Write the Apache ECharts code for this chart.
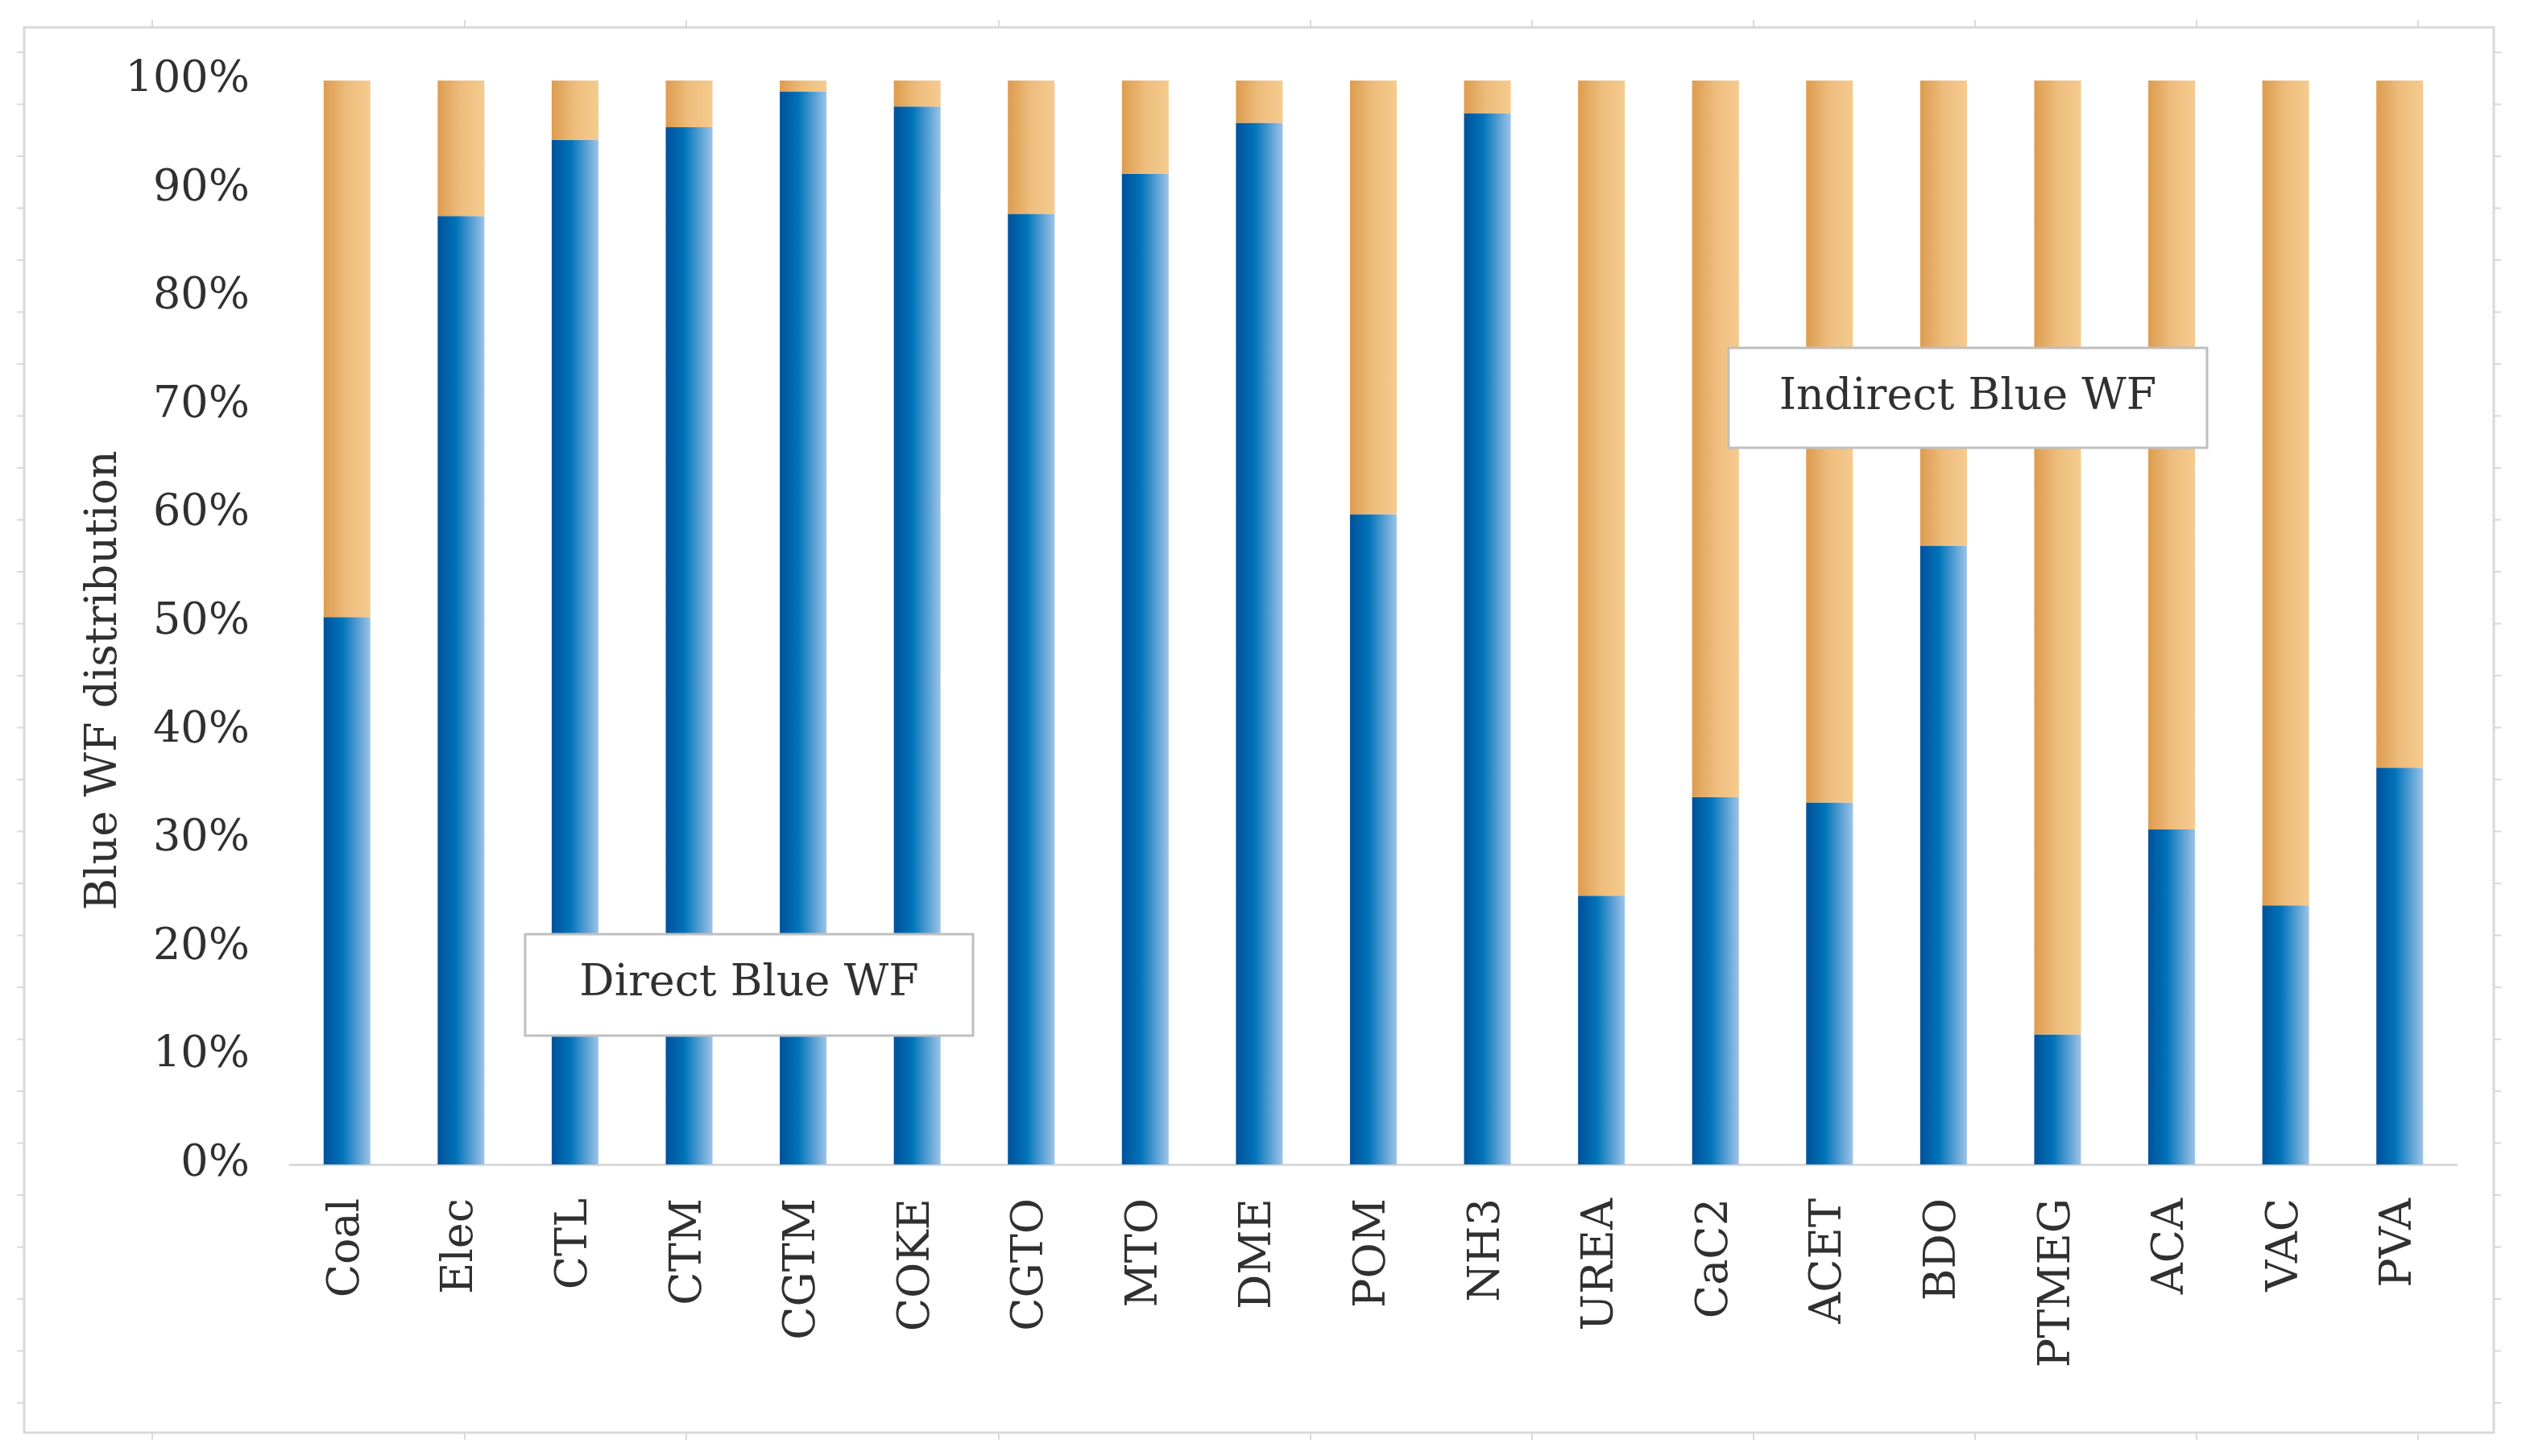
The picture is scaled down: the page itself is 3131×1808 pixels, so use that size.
<!DOCTYPE html>
<html>
<head>
<meta charset="utf-8">
<script src="https://cdn.jsdelivr.net/npm/echarts@6/dist/echarts.min.js"></script>
<style>
html,body{margin:0;padding:0;background:#fff;}
#chart{width:3131px;height:1808px;}
</style>
</head>
<body>
<div id="chart"></div>
<script>
const categories = ['Coal','Elec','CTL','CTM','CGTM','COKE','CGTO','MTO','DME','POM','NH3','UREA','CaC2','ACET','BDO','PTMEG','ACA','VAC','PVA'];
const directBlueWF = [50.5, 87.5, 94.5, 95.7, 99.0, 97.6, 87.7, 91.4, 96.1, 60.0, 97.0, 24.8, 33.9, 33.4, 57.1, 12.0, 30.9, 23.9, 36.6];
const indirectBlueWF = [49.5, 12.5, 5.5, 4.3, 1.0, 2.4, 12.3, 8.6, 3.9, 40.0, 3.0, 75.2, 66.1, 66.6, 42.9, 88.0, 69.1, 76.1, 63.4];
const yTicks = [0, 10, 20, 30, 40, 50, 60, 70, 80, 90, 100];

const FONT = 'DejaVu Serif';
const TXT = '#303030';
const FRAME = '#d9d9d9';

// decorative frame (outer border with small ruler ticks)
const frame = {left: 30, top: 34, right: 3096, bottom: 1779};
const frameTicksX = [189, 577, 852, 1240, 1627, 1902, 2177, 2452, 2727, 3002];
const frameGraphics = [
  {type: 'rect', shape: {x: frame.left, y: frame.top, width: frame.right - frame.left, height: frame.bottom - frame.top},
    style: {fill: 'none', stroke: FRAME, lineWidth: 3}, z: 0}
];
frameTicksX.forEach(x => {
  frameGraphics.push({type: 'line', shape: {x1: x, y1: frame.top - 9, x2: x, y2: frame.top}, style: {stroke: FRAME, lineWidth: 2}});
  frameGraphics.push({type: 'line', shape: {x1: x, y1: frame.bottom, x2: x, y2: frame.bottom + 9}, style: {stroke: FRAME, lineWidth: 2}});
});
for (let y = frame.top + 31; y < frame.bottom - 10; y += 64.5) {
  frameGraphics.push({type: 'line', shape: {x1: frame.left - 9, y1: y, x2: frame.left, y2: y}, style: {stroke: FRAME, lineWidth: 2}});
  frameGraphics.push({type: 'line', shape: {x1: frame.right, y1: y, x2: frame.right + 9, y2: y}, style: {stroke: FRAME, lineWidth: 2}});
}

const chart = echarts.init(document.getElementById('chart'));
chart.setOption({
  backgroundColor: '#ffffff',
  animation: false,
  grid: {left: 360, right: 81, top: 100, bottom: 362},
  xAxis: {
    type: 'category',
    data: categories,
    axisLine: {lineStyle: {color: FRAME, width: 3}},
    axisTick: {show: false},
    axisLabel: {rotate: 90, margin: 42, fontFamily: FONT, fontSize: 54, color: TXT}
  },
  yAxis: {
    type: 'value',
    min: 0, max: 100, interval: 10,
    axisLine: {show: false},
    axisTick: {show: false},
    splitLine: {show: false},
    axisLabel: {margin: 50, fontFamily: FONT, fontSize: 54, color: TXT,
      formatter: v => yTicks.includes(v) ? v + '%' : ''}
  },
  series: [
    {
      name: 'Direct Blue WF', type: 'bar', stack: 'wf', barWidth: '41%',
      data: directBlueWF,
      itemStyle: {color: new echarts.graphic.LinearGradient(0, 0, 1, 0, [
        {offset: 0, color: '#00519A'},
        {offset: 0.4, color: '#0073B9'},
        {offset: 1, color: '#9DC3E8'}
      ])}
    },
    {
      name: 'Indirect Blue WF', type: 'bar', stack: 'wf', barWidth: '41%',
      data: indirectBlueWF,
      itemStyle: {color: new echarts.graphic.LinearGradient(0, 0, 1, 0, [
        {offset: 0, color: '#DD9C4F'},
        {offset: 0.5, color: '#EEBD7D'},
        {offset: 1, color: '#F5CB8F'}
      ])}
    }
  ],
  graphic: frameGraphics.concat([
    {type: 'text', x: 130, y: 845, rotation: Math.PI / 2,
      style: {text: 'Blue WF distribution', fontFamily: FONT, fontSize: 54, fill: TXT, align: 'center', verticalAlign: 'middle'}},
    {type: 'rect', shape: {x: 652, y: 1160, width: 556, height: 126}, style: {fill: '#ffffff', stroke: '#bfbfbf', lineWidth: 3}, z: 10},
    {type: 'text', x: 930, y: 1222, z: 11,
      style: {text: 'Direct Blue WF', fontFamily: FONT, fontSize: 54, fill: TXT, align: 'center', verticalAlign: 'middle'}},
    {type: 'rect', shape: {x: 2146, y: 432, width: 594, height: 124}, style: {fill: '#ffffff', stroke: '#bfbfbf', lineWidth: 3}, z: 10},
    {type: 'text', x: 2443, y: 494, z: 11,
      style: {text: 'Indirect Blue WF', fontFamily: FONT, fontSize: 54, fill: TXT, align: 'center', verticalAlign: 'middle'}}
  ])
});
</script>
</body>
</html>
